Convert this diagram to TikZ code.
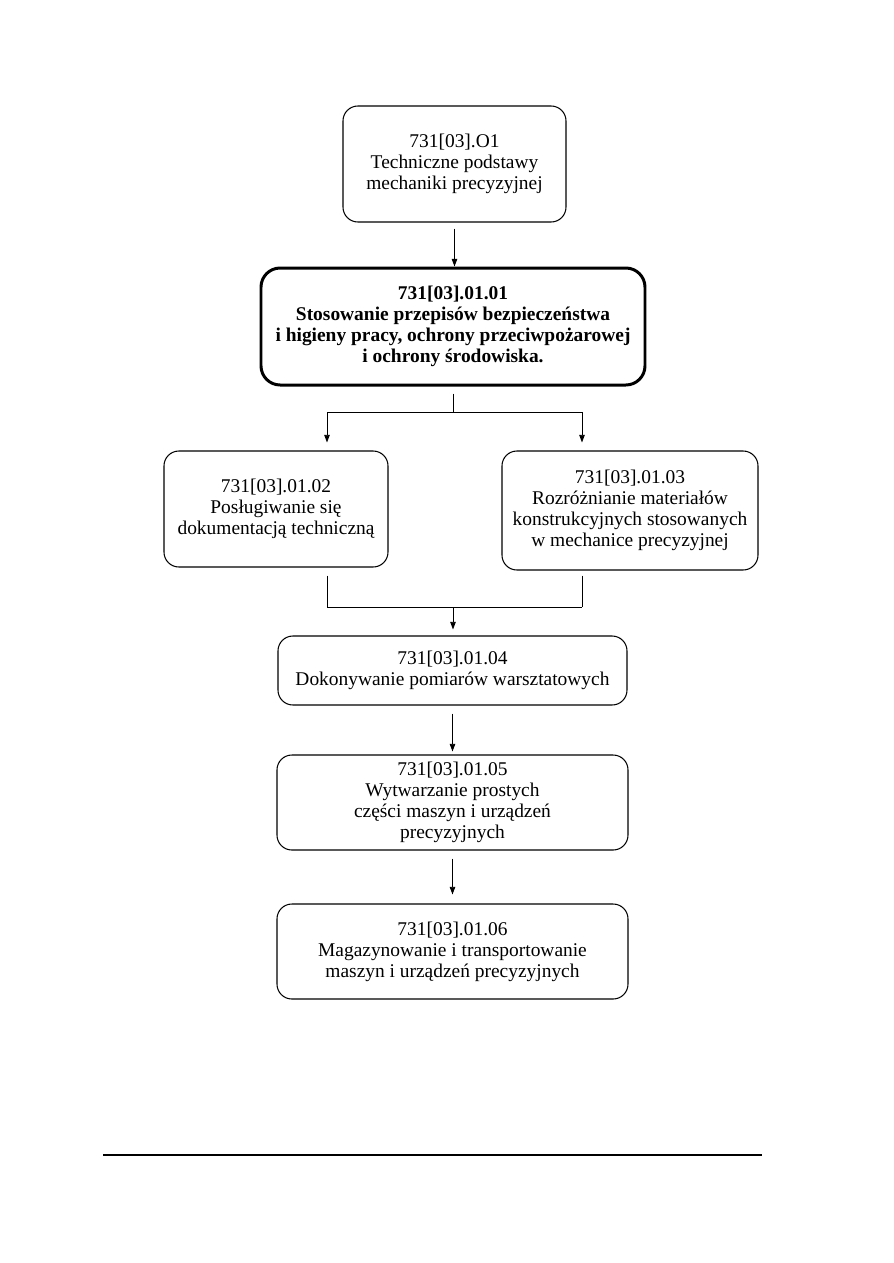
\documentclass[tikz,border=0pt]{standalone}
\usepackage{fontspec}
\setmainfont{Liberation Serif}
\usepackage{tikz}
\usetikzlibrary{arrows.meta,positioning,calc}
\newcommand{\pix}{0.23516mm}
\tikzset{
  modul/.style 2 args={rectangle, rounded corners=3.5mm, draw, line width=0.7pt, align=center,
               font=\fontsize{13}{14}\selectfont, inner sep=0pt, minimum width=#1*\pix, minimum height=#2*\pix},
  gruby/.style={line width=2pt, rounded corners=4.5mm, font=\fontsize{13}{14}\selectfont\bfseries},
  arr/.style={-{Triangle[length=1.8mm,width=1.3mm]}, line width=0.6pt},
  lin/.style={line width=0.6pt},
}
\begin{document}
\begin{tikzpicture}[x=\pix, y=-\pix]
     \useasboundingbox (0,0) rectangle (893,1263);
     \node[modul={223}{116}] (o1) at (454.5,164) {731[03].O1\\Techniczne podstawy\\mechaniki precyzyjnej};
     \node[modul={384}{117}, gruby] (m1) at (453,326.5) {731[03].01.01\\Stosowanie przepisów bezpieczeństwa\\i higieny pracy, ochrony przeciwpożarowej\\i ochrony środowiska.};
     \node[modul={224}{116}] (m2) at (276,509) {731[03].01.02\\Posługiwanie się\\dokumentacją techniczną};
     \node[modul={256}{119}] (m3) at (630,510.5) {731[03].01.03\\Rozróżnianie materiałów\\konstrukcyjnych stosowanych\\w mechanice precyzyjnej};
     \node[modul={349}{69}] (m4) at (452.5,670.5) {731[03].01.04\\Dokonywanie pomiarów warsztatowych};
     \node[modul={351}{95}] (m5) at (452.5,802.5) {731[03].01.05\\Wytwarzanie prostych\\części maszyn i urządzeń\\precyzyjnych};
     \node[modul={351}{95}] (m6) at (452.5,951.5) {731[03].01.06\\Magazynowanie i transportowanie\\maszyn i urządzeń precyzyjnych};
     \coordinate (rozg) at (453,412); \coordinate (lew) at (327,412); \coordinate (pra) at (582,412);
     \coordinate (zb) at (453,607); \coordinate (lewd) at (327,607); \coordinate (prad) at (582,607);
     \draw[arr, shorten <=6*\pix](o1.south)--(o1.south |- m1.north);
     \draw[lin, shorten <=7*\pix](m1.south)--(rozg); \draw[lin](lew)--(pra);
     \draw[arr, shorten >=8*\pix](lew)--(lew |- m2.north); \draw[arr, shorten >=8*\pix](pra)--(pra |- m3.north);
     \draw[lin, shorten <=8*\pix](lew |- m2.south)--(lewd); \draw[lin, shorten <=5*\pix](pra |- m3.south)--(prad);
     \draw[lin](lewd)--(prad); \draw[arr, shorten >=6*\pix](zb)--(zb |- m4.north);
     \draw[arr, shorten <=8*\pix, shorten >=3*\pix](m4)--(m5);
     \draw[arr, shorten <=8*\pix, shorten >=9*\pix](m5)--(m6);
     \draw[line width=1pt](103,1155)--(762,1155);
   \end{tikzpicture}
\end{document}
